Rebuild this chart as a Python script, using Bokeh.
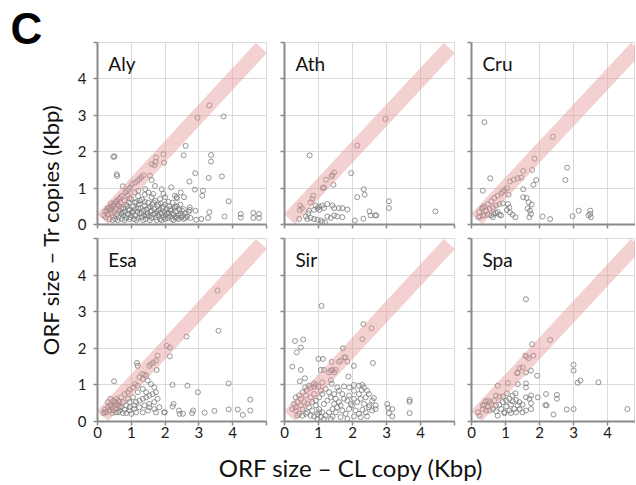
from math import pi
from bokeh.plotting import figure
from bokeh.layouts import row, column
from bokeh.models import Range1d, FixedTicker, Label
from bokeh.embed import file_html
from bokeh.resources import INLINE
from bokeh.core.properties import value

# ---------------- data (Kbp) ----------------
panel_names = ["Aly", "Ath", "Cru", "Esa", "Sir", "Spa"]
tick_values = [0, 1, 2, 3, 4]
end_tick = [5]
grid_values = [0, 1, 2, 3, 4, 5]
diag_x = [0.15, 4.85]
diag_y = [0.15, 4.85]
x_label = "ORF size \u2013 CL copy (Kbp)"
y_label = "ORF size \u2013 Tr copies (Kbp)"
panel_letter = "C"

aly_pts = [
    (3.31, 3.27), (2.96, 2.93), (3.73, 2.97), (2.61, 2.16), (2.55, 1.90), (1.95, 1.93), (1.97, 1.70),
    (1.73, 1.84), (1.72, 1.72), (1.60, 1.66), (1.68, 1.63), (3.36, 1.91), (3.36, 1.73), (2.89, 1.41),
    (3.68, 1.32), (3.29, 1.28), (2.72, 1.18), (0.47, 1.86), (0.50, 1.87), (0.57, 1.38), (0.58, 1.33),
    (2.18, 1.02), (2.46, 0.88), (2.88, 0.96), (3.12, 0.93), (3.10, 0.79), (3.88, 0.64), (3.76, 0.22),
    (4.24, 0.29), (4.24, 0.19), (4.61, 0.32), (4.61, 0.18), (4.78, 0.29), (4.78, 0.18), (3.31, 0.34),
    (2.90, 0.38), (2.73, 0.47), (2.73, 0.40), (2.29, 0.79), (2.34, 0.75), (2.56, 0.75), (2.92, 0.13),
    (3.07, 0.15), (3.27, 0.18), (0.75, 1.05),
    (1.36, 1.35), (1.24, 1.25), (1.11, 1.15), (1.02, 1.11), (0.92, 0.97), (0.82, 0.88), (0.72, 0.79),
    (0.63, 0.70), (0.53, 0.61), (0.43, 0.52), (0.33, 0.43), (0.23, 0.36), (0.19, 0.25), (1.55, 1.34),
    (1.60, 1.22), (1.70, 1.06), (1.90, 0.97), (1.95, 0.84), (1.41, 0.97), (1.21, 0.93), (1.51, 0.88),
    (1.65, 0.84), (0.97, 1.02), (0.87, 0.92), (0.68, 0.74), (0.58, 0.66), (0.48, 0.56), (0.38, 0.47),
    (0.28, 0.38), (1.18, 1.20), (1.30, 1.30),
    (0.25, 0.20), (0.30, 0.28), (0.35, 0.15), (0.38, 0.40), (0.42, 0.30), (0.45, 0.22), (0.48, 0.50),
    (0.50, 0.35), (0.52, 0.15), (0.55, 0.42), (0.58, 0.28), (0.60, 0.55), (0.62, 0.20), (0.65, 0.38),
    (0.68, 0.60), (0.70, 0.30), (0.72, 0.15), (0.75, 0.45), (0.78, 0.25), (0.80, 0.65), (0.82, 0.35),
    (0.85, 0.18), (0.88, 0.50), (0.90, 0.28), (0.92, 0.60), (0.95, 0.40), (0.98, 0.20), (1.00, 0.70),
    (1.02, 0.32), (1.05, 0.50), (1.08, 0.15), (1.10, 0.42), (1.12, 0.25), (1.15, 0.62), (1.18, 0.35),
    (1.20, 0.18), (1.22, 0.55), (1.25, 0.30), (1.28, 0.45), (1.30, 0.20), (1.32, 0.68), (1.35, 0.38),
    (1.38, 0.25), (1.40, 0.52), (1.42, 0.15), (1.45, 0.42), (1.48, 0.30), (1.50, 0.60), (1.52, 0.22),
    (1.55, 0.48), (1.58, 0.35), (1.60, 0.18), (1.62, 0.55), (1.65, 0.28), (1.68, 0.42), (1.70, 0.65),
    (1.72, 0.20), (1.75, 0.35), (1.78, 0.50), (1.80, 0.25), (1.82, 0.40), (1.85, 0.15), (1.88, 0.58),
    (1.90, 0.30), (1.92, 0.45), (1.95, 0.20), (1.98, 0.35), (2.00, 0.55), (2.02, 0.25), (2.05, 0.42),
    (2.08, 0.18), (2.10, 0.32), (2.12, 0.50), (2.15, 0.22), (2.18, 0.38), (2.20, 0.15), (2.22, 0.60),
    (2.25, 0.28), (2.28, 0.45), (2.30, 0.20), (2.32, 0.35), (2.35, 0.50), (2.38, 0.25), (2.40, 0.15),
    (2.42, 0.40), (2.45, 0.30), (2.48, 0.20), (2.50, 0.38), (2.52, 0.25), (2.55, 0.15), (2.60, 0.30),
    (2.65, 0.22), (2.70, 0.35), (2.75, 0.18),
    (0.30, 0.45), (0.40, 0.58), (0.45, 0.12), (0.55, 0.62), (0.60, 0.12), (0.65, 0.50), (0.70, 0.45),
    (0.75, 0.32), (0.80, 0.12), (0.85, 0.55), (0.90, 0.42), (0.95, 0.15), (1.00, 0.25), (1.05, 0.35),
    (1.10, 0.60), (1.15, 0.12), (1.20, 0.45), (1.25, 0.65), (1.30, 0.32), (1.35, 0.12), (1.40, 0.62),
    (1.45, 0.25), (1.50, 0.45), (1.55, 0.12), (1.60, 0.38), (1.65, 0.60), (1.70, 0.30), (1.75, 0.12),
    (1.80, 0.55), (1.85, 0.32), (1.90, 0.12), (1.95, 0.50), (2.00, 0.15), (2.05, 0.30), (2.10, 0.62),
    (2.15, 0.42), (2.20, 0.30), (2.25, 0.12), (2.30, 0.50), (2.35, 0.18), (2.45, 0.55), (2.55, 0.42),
    (2.60, 0.18), (2.35, 0.72), (1.60, 0.75), (1.20, 0.78), (0.90, 0.80), (1.40, 0.82), (1.85, 0.70),
    (2.00, 0.75), (1.10, 0.88), (0.95, 0.72),
]

ath_pts = [
    (0.74, 1.90), (2.14, 2.17), (2.97, 2.90), (1.96, 1.41), (1.46, 1.43), (1.41, 1.36), (1.38, 1.32),
    (1.22, 1.23), (1.16, 1.02), (1.13, 1.00), (1.44, 1.09), (0.84, 0.79), (0.82, 0.70), (0.77, 0.61),
    (0.46, 0.52), (0.51, 0.45), (0.45, 0.40), (0.72, 0.38), (0.70, 0.31), (0.92, 0.52), (0.97, 0.45),
    (1.02, 0.49), (1.11, 0.52), (1.26, 0.56), (0.87, 0.40), (1.02, 0.40), (1.16, 0.45), (1.41, 0.52),
    (1.46, 0.45), (1.60, 0.45), (1.70, 0.45), (1.85, 0.41), (2.33, 0.97), (2.36, 0.82), (2.14, 0.75),
    (3.07, 0.64), (3.07, 0.45), (2.50, 0.36), (2.53, 0.25), (2.66, 0.25), (2.70, 0.25), (2.32, 0.16),
    (2.07, 0.11), (4.44, 0.36), (0.43, 0.15), (0.63, 0.22), (0.77, 0.18), (0.87, 0.15), (0.97, 0.13),
    (1.07, 0.11), (1.11, 0.06), (1.19, 0.06), (1.26, 0.22), (1.36, 0.18), (1.46, 0.25), (1.55, 0.22),
    (1.70, 0.20), (0.67, 0.15),
]

cru_pts = [
    (0.38, 2.81), (2.39, 2.41), (1.85, 1.81), (2.81, 1.56), (2.76, 1.22), (1.78, 1.50), (1.52, 1.47),
    (1.90, 1.22), (1.82, 1.09), (1.46, 1.29), (1.36, 1.27), (1.24, 1.23), (1.13, 1.18), (0.55, 1.27),
    (0.33, 0.93), (1.04, 1.00), (0.97, 0.95), (0.92, 0.90), (0.87, 0.85), (0.77, 0.79), (0.67, 0.73),
    (0.58, 0.64), (0.48, 0.56), (0.38, 0.49), (0.31, 0.43), (0.23, 0.34), (0.33, 0.47), (1.52, 0.97),
    (1.09, 0.82), (1.52, 0.75), (1.62, 0.73), (1.68, 0.61), (1.77, 0.55), (1.07, 0.56), (1.11, 0.47),
    (1.04, 0.40), (1.13, 0.33), (1.21, 0.27), (1.29, 0.20), (1.65, 0.44), (1.72, 0.38), (1.75, 0.29),
    (1.70, 0.20), (2.09, 0.22), (2.31, 0.15), (2.97, 0.23), (3.15, 0.38), (3.49, 0.38), (3.49, 0.29),
    (3.44, 0.25), (3.51, 0.20), (0.38, 0.25), (0.48, 0.27), (0.58, 0.25), (0.65, 0.29), (0.72, 0.31),
    (0.82, 0.27), (0.87, 0.25), (0.63, 0.20), (0.77, 0.34), (0.53, 0.43), (0.63, 0.47), (0.72, 0.52),
    (0.82, 0.56), (0.92, 0.58), (0.43, 0.38), (0.33, 0.25), (0.25, 0.22), (0.20, 0.20),
]

esa_pts = [
    (3.55, 3.58), (3.58, 2.48), (2.63, 2.32), (2.05, 2.07), (2.14, 2.02), (2.14, 1.78), (1.78, 1.80),
    (1.73, 1.66), (1.65, 1.61), (1.58, 1.57), (1.53, 1.52), (1.75, 1.41), (1.17, 1.60), (1.19, 1.52),
    (1.32, 1.30), (1.39, 1.28), (1.44, 1.25), (1.24, 1.21), (1.34, 1.16), (0.49, 1.10), (1.11, 1.02),
    (1.05, 0.93), (0.95, 0.87), (0.90, 0.80), (0.80, 0.75), (0.70, 0.66), (0.61, 0.57), (0.51, 0.53),
    (0.41, 0.46), (0.31, 0.39), (0.22, 0.25), (1.49, 1.12), (1.58, 1.02), (1.68, 0.93), (1.73, 0.80),
    (1.63, 0.75), (1.53, 0.71), (1.44, 0.66), (1.34, 0.62), (1.24, 0.57), (1.14, 0.53), (1.78, 0.62),
    (1.68, 0.53), (1.53, 0.48), (1.39, 0.44), (1.24, 0.39), (1.09, 0.35), (0.95, 0.30), (0.80, 0.32),
    (0.65, 0.30), (1.83, 0.39), (1.68, 0.34), (1.49, 0.30), (1.34, 0.25), (1.97, 0.25), (1.14, 0.25),
    (1.73, 0.25), (1.53, 0.39), (0.95, 0.53), (1.05, 0.66), (1.19, 0.80), (1.34, 0.89), (1.44, 0.80),
    (1.19, 0.98), (1.09, 0.44), (0.90, 0.62), (0.85, 0.44), (0.65, 0.41), (0.56, 0.34), (0.46, 0.30),
    (0.36, 0.30), (0.26, 0.25), (0.75, 0.53), (0.61, 0.44), (0.95, 0.39), (0.36, 0.44), (0.41, 0.39),
    (0.51, 0.44), (0.56, 0.48), (0.46, 0.57), (0.38, 0.62), (0.31, 0.53), (0.56, 0.62), (0.65, 0.53),
    (0.70, 0.39), (0.44, 0.23), (0.54, 0.25), (0.61, 0.25), (0.75, 0.23), (0.85, 0.23), (1.00, 0.21),
    (0.22, 0.32), (0.17, 0.23), (2.22, 1.00), (2.66, 0.98), (2.97, 0.80), (2.25, 0.48), (2.22, 0.41),
    (2.41, 0.30), (2.53, 0.21), (2.83, 0.30), (2.80, 0.23), (3.17, 0.24), (3.46, 0.29), (3.88, 0.33),
    (4.15, 0.33), (4.30, 0.18), (4.52, 0.30), (4.52, 0.60), (3.88, 1.04), (1.99, 0.25), (2.43, 0.21),
]

sir_pts = [
    (1.09, 3.16), (2.32, 2.66), (2.56, 2.55), (2.29, 2.25), (1.72, 2.00), (0.31, 2.20), (0.55, 2.24),
    (0.36, 1.89), (0.48, 2.02), (0.23, 1.50), (0.48, 1.41), (0.45, 1.10), (0.60, 1.18), (1.00, 1.71),
    (1.13, 1.71), (1.39, 1.63), (1.60, 1.63), (1.65, 1.66), (1.75, 1.75), (1.85, 1.64), (1.80, 1.75),
    (2.04, 1.52), (2.60, 1.60), (1.07, 1.41), (1.16, 1.41), (1.31, 1.34), (1.36, 1.39), (1.41, 1.41),
    (1.46, 1.34), (1.50, 1.41), (1.88, 1.23), (1.36, 1.13), (1.39, 1.03), (0.92, 1.00), (1.00, 0.95),
    (0.87, 1.04), (0.72, 0.98), (0.61, 0.93), (1.11, 1.07), (1.75, 0.96), (2.04, 1.00), (2.19, 0.98),
    (2.29, 1.00), (2.34, 0.93), (2.27, 0.86), (2.43, 0.84), (2.48, 0.75), (2.63, 0.64), (2.39, 0.66),
    (3.02, 0.48), (3.05, 0.37), (3.17, 0.34), (3.07, 0.23), (3.17, 0.14), (3.68, 0.59), (3.68, 0.54),
    (3.68, 0.23), (0.33, 0.66), (0.43, 0.71), (0.53, 0.80), (0.65, 0.86), (0.77, 0.92), (0.87, 0.95),
    (0.28, 0.48), (0.38, 0.53), (0.23, 0.34), (0.33, 0.39), (0.48, 0.62), (0.63, 0.71),
    (0.33, 0.30), (0.43, 0.21), (0.53, 0.34), (0.67, 0.25), (0.72, 0.39), (0.82, 0.30), (0.92, 0.44),
    (1.02, 0.34), (1.11, 0.25), (0.97, 0.19), (0.87, 0.14), (1.07, 0.12), (1.21, 0.16), (1.31, 0.25),
    (1.41, 0.34), (1.46, 0.48), (1.55, 0.39), (1.65, 0.44), (1.70, 0.30), (1.80, 0.21), (1.90, 0.34),
    (1.99, 0.44), (2.09, 0.30), (2.19, 0.21), (2.29, 0.32), (2.39, 0.25), (2.48, 0.39), (2.58, 0.30),
    (2.68, 0.34), (1.16, 0.48), (1.26, 0.57), (1.36, 0.66), (1.51, 0.62), (1.60, 0.53), (1.75, 0.62),
    (1.85, 0.57), (1.95, 0.48), (2.04, 0.62), (2.14, 0.53), (2.24, 0.62), (2.34, 0.48), (1.02, 0.66),
    (0.92, 0.57), (0.82, 0.53), (1.11, 0.75), (1.31, 0.80), (1.46, 0.75), (1.60, 0.84), (1.21, 0.89),
    (1.55, 0.93), (1.70, 0.75), (1.90, 0.71), (0.53, 0.16), (0.63, 0.21), (0.77, 0.16), (0.97, 0.07),
    (1.16, 0.07), (1.41, 0.14), (1.65, 0.12), (1.85, 0.07), (2.04, 0.14), (2.24, 0.12), (2.43, 0.14),
    (0.38, 0.16), (0.48, 0.44), (0.58, 0.53), (0.67, 0.48), (0.77, 0.66), (0.87, 0.75), (1.07, 0.84),
    (2.04, 0.84), (2.19, 0.75), (1.90, 0.93), (1.51, 0.25), (1.36, 0.07), (1.02, 0.25), (2.58, 0.57),
    (2.50, 0.44), (2.68, 0.44),
]

spa_pts = [
    (1.60, 3.34), (2.31, 2.23), (1.78, 2.11), (1.82, 1.80), (1.68, 1.73), (1.58, 1.80), (1.62, 1.77),
    (1.50, 1.48), (1.41, 1.46), (1.36, 1.34), (1.34, 1.32), (1.75, 1.39), (1.60, 1.34), (1.93, 1.25),
    (3.00, 1.55), (3.00, 1.39), (3.20, 1.12), (3.12, 1.06), (3.73, 1.07), (1.07, 1.05), (1.36, 1.02),
    (1.60, 1.04), (1.60, 0.93), (0.77, 0.98), (1.29, 0.77), (1.04, 0.77), (0.92, 0.68), (0.82, 0.68),
    (0.72, 0.71), (2.19, 0.75), (2.51, 0.73), (2.51, 0.62), (1.95, 0.66), (1.75, 0.71), (1.70, 0.62),
    (1.60, 0.66), (2.17, 0.45), (2.21, 0.44), (2.41, 0.19), (2.80, 0.33), (3.00, 0.34), (4.58, 0.34),
    (1.75, 0.50), (1.75, 0.34), (1.60, 0.30), (1.50, 0.25), (1.41, 0.34), (0.19, 0.25), (0.23, 0.16),
    (0.33, 0.44), (0.41, 0.55), (0.48, 0.57), (0.55, 0.53), (0.38, 0.46), (0.48, 0.41), (0.58, 0.46),
    (0.33, 0.34), (0.63, 0.34), (0.72, 0.44), (0.82, 0.46), (0.92, 0.53), (1.02, 0.57), (1.11, 0.62),
    (1.21, 0.55), (1.31, 0.59), (1.41, 0.53), (1.16, 0.46), (1.02, 0.41), (0.87, 0.34), (0.72, 0.28),
    (0.97, 0.25), (1.11, 0.30), (1.26, 0.34), (1.36, 0.44), (1.50, 0.46), (0.77, 0.16), (0.97, 0.23),
    (1.16, 0.23), (1.31, 0.25), (0.53, 0.30), (0.43, 0.30), (0.67, 0.57), (1.21, 0.71),
]

panel_points = [aly_pts, ath_pts, cru_pts, esa_pts, sir_pts, spa_pts]

# ---------------- styling / layout ----------------
FONT = "Lato"
AXIS_COL = "#8a8a8a"
GRID_COL = "#dadada"
PT_COL = "#7a7a7a"
BAND_COL = "#e59a9a"

col_frame = [169, 170, 164]
col_left = [31, 9, 9]
col_right = [9, 8, 0]
col_xmax = [5, 5, 4.82]
row_frame = [182, 183]
row_top = [42, 4]
row_bottom = [10, 24]
LEFT_W = 66
BOTTOM_H = 39


def style_axis(ax, show_labels):
    ax.ticker = FixedTicker(ticks=tick_values, minor_ticks=end_tick)
    ax.axis_line_color = AXIS_COL
    ax.axis_line_width = 2
    ax.major_tick_line_color = AXIS_COL
    ax.major_tick_line_width = 1.5
    ax.major_tick_out = 4
    ax.major_tick_in = 0
    ax.minor_tick_line_color = AXIS_COL
    ax.minor_tick_line_width = 1.5
    ax.minor_tick_out = 4
    ax.minor_tick_in = 0
    ax.major_label_text_font = FONT
    if show_labels:
        ax.major_label_text_font_size = "15px"
        ax.major_label_text_color = "#1a1a1a"
    else:
        ax.major_label_text_font_size = "1px"
        ax.major_label_text_color = None
        ax.major_label_standoff = 0


def make_panel(idx):
    r, c = divmod(idx, 3)
    p = figure(
        width=col_left[c] + col_frame[c] + col_right[c],
        height=row_top[r] + row_frame[r] + row_bottom[r],
        x_range=Range1d(0, col_xmax[c]), y_range=Range1d(0, 5),
        output_backend="svg", toolbar_location=None,
        min_border_left=col_left[c], min_border_right=col_right[c],
        min_border_top=row_top[r], min_border_bottom=row_bottom[r],
    )
    p.background_fill_color = "white"
    p.border_fill_color = "white"
    p.outline_line_color = GRID_COL
    p.outline_line_width = 1
    style_axis(p.xaxis[0], r == 1)
    style_axis(p.yaxis[0], c == 0)
    if r == 1:
        p.xaxis.major_label_standoff = 1
    if c == 0:
        p.yaxis.major_label_standoff = 7
    p.xgrid.ticker = FixedTicker(ticks=grid_values)
    p.ygrid.ticker = FixedTicker(ticks=grid_values)
    p.xgrid.grid_line_color = GRID_COL
    p.ygrid.grid_line_color = GRID_COL

    pts = panel_points[idx]
    xs = [a for a, b in pts]
    ys = [b for a, b in pts]
    p.scatter(xs, ys, marker="circle", size=5, fill_color=None,
              line_color=PT_COL, line_width=1, line_alpha=0.8)
    p.line(diag_x, diag_y, line_color=BAND_COL, line_width=15, line_alpha=0.45,
           line_cap="butt")
    p.add_layout(Label(x=0.32, y=4.43, text=panel_names[idx], text_font=FONT,
                       text_font_size="19px", text_baseline="middle",
                       text_color="#111111"))
    return p


panels = [make_panel(i) for i in range(6)]
grid_h = sum(row_top) + sum(row_frame) + sum(row_bottom)

left_fig = figure(width=LEFT_W, height=grid_h, x_range=Range1d(0, LEFT_W),
                  y_range=Range1d(0, grid_h), output_backend="svg",
                  toolbar_location=None, x_axis_type=None, y_axis_type=None,
                  min_border=0)
left_fig.outline_line_color = None
left_fig.xgrid.visible = False
left_fig.ygrid.visible = False
left_fig.text(x=[10], y=[grid_h - 3], text=[panel_letter], text_font=value("Liberation Sans"),
              text_font_style="bold", text_font_size="44px", text_baseline="top",
              text_align="left", text_color="black")
left_fig.text(x=[50], y=[grid_h - 229], text=[y_label], text_font=value(FONT),
              text_font_size="22px", text_baseline="middle", text_align="center",
              angle=pi / 2, text_color="#111111")

total_w = LEFT_W + sum(col_left) + sum(col_frame) + sum(col_right)
bottom_fig = figure(width=total_w, height=BOTTOM_H, x_range=Range1d(0, total_w),
                    y_range=Range1d(0, BOTTOM_H), output_backend="svg",
                    toolbar_location=None, x_axis_type=None, y_axis_type=None,
                    min_border=0)
bottom_fig.outline_line_color = None
bottom_fig.xgrid.visible = False
bottom_fig.ygrid.visible = False
bottom_fig.text(x=[351], y=[BOTTOM_H - 22], text=[x_label], text_font=value(FONT),
                text_font_size="24px", text_baseline="middle", text_align="center",
                text_color="#111111")

layout = column(
    row(left_fig, column(row(*panels[:3]), row(*panels[3:]))),
    bottom_fig,
)

open("out.html", "w").write(file_html(layout, INLINE))
